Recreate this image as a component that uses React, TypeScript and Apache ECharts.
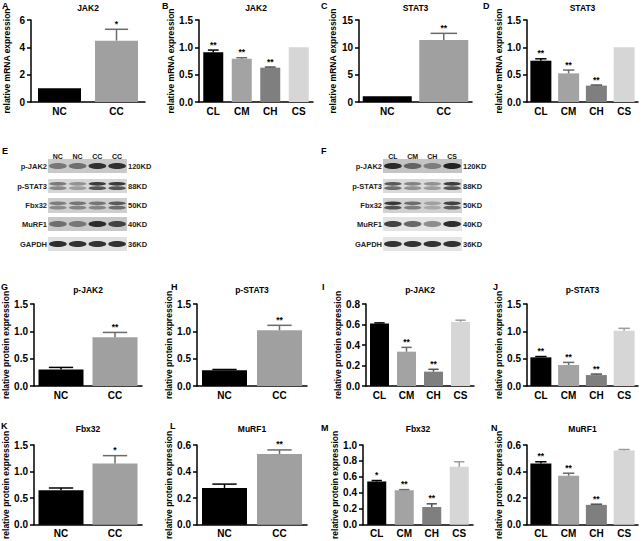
import React, { useEffect, useRef } from 'react';
import * as echarts from 'echarts';

const FONT = "'Liberation Sans', Arial, sans-serif";

// ---------- categories & colours ----------
const twoGroups = ['NC', 'CC'];
const fourGroups = ['CL', 'CM', 'CH', 'CS'];
const twoColors = ['#000000', '#a0a0a0'];
const twoErrColors = ['#000000', '#6b6b6b'];
const fourColors = ['#000000', '#a3a3a3', '#7f7f7f', '#d6d6d6'];
const fourErrColors = ['#000000', '#6b6b6b', '#4f4f4f', '#9c9c9c'];

// ---------- data ----------
// A  JAK2 mRNA (NC / CC)
const jak2MrnaNcCc = [1.0, 4.49];
const jak2MrnaNcCcErr = [0, 0.83];
const jak2MrnaNcCcSig = ['', '*'];
// B  JAK2 mRNA (groups)
const jak2MrnaGroups = [0.91, 0.79, 0.628, 1.0];
const jak2MrnaGroupsErr = [0.04, 0.02, 0.012, 0];
const jak2MrnaGroupsSig = ['**', '**', '**', ''];
// C  STAT3 mRNA (NC / CC)
const stat3MrnaNcCc = [1.05, 11.34];
const stat3MrnaNcCcErr = [0, 1.22];
const stat3MrnaNcCcSig = ['', '**'];
// D  STAT3 mRNA (groups)
const stat3MrnaGroups = [0.756, 0.524, 0.3, 1.0];
const stat3MrnaGroupsErr = [0.034, 0.06, 0.01, 0];
const stat3MrnaGroupsSig = ['**', '**', '**', ''];
// G  p-JAK2 protein (NC / CC)
const pJak2NcCc = [0.3, 0.89];
const pJak2NcCcErr = [0.04, 0.09];
const pJak2NcCcSig = ['', '**'];
// H  p-STAT3 protein (NC / CC)
const pStat3NcCc = [0.29, 1.02];
const pStat3NcCcErr = [0.012, 0.09];
const pStat3NcCcSig = ['', '**'];
// I  p-JAK2 protein (groups)
const pJak2Groups = [0.61, 0.335, 0.14, 0.625];
const pJak2GroupsErr = [0.006, 0.042, 0.023, 0.017];
const pJak2GroupsSig = ['', '**', '**', ''];
// J  p-STAT3 protein (groups)
const pStat3Groups = [0.524, 0.384, 0.2, 1.01];
const pStat3GroupsErr = [0.015, 0.048, 0.018, 0.045];
const pStat3GroupsSig = ['**', '**', '**', ''];
// K  Fbx32 protein (NC / CC)
const fbx32NcCc = [0.65, 1.154];
const fbx32NcCcErr = [0.042, 0.146];
const fbx32NcCcSig = ['', '*'];
// L  MuRF1 protein (NC / CC)
const murf1NcCc = [0.277, 0.532];
const murf1NcCcErr = [0.029, 0.031];
const murf1NcCcSig = ['', '**'];
// M  Fbx32 protein (groups)
const fbx32Groups = [0.543, 0.433, 0.223, 0.729];
const fbx32GroupsErr = [0.012, 0.008, 0.04, 0.061];
const fbx32GroupsSig = ['*', '**', '**', ''];
// N  MuRF1 protein (groups)
const murf1Groups = [0.461, 0.369, 0.15, 0.559];
const murf1GroupsErr = [0.013, 0.019, 0.005, 0.007];
const murf1GroupsSig = ['**', '**', '**', ''];

// western blot band intensities (0..1), lanes left to right
const blotProteins = ['p-JAK2', 'p-STAT3', 'Fbx32', 'MuRF1', 'GAPDH'];
const blotSizes = ['120KD', '88KD', '50KD', '40KD', '36KD'];
const blotELanes = ['NC', 'NC', 'CC', 'CC'];
const blotEIntensity = [
  [0.45, 0.5, 0.85, 0.85],
  [0.55, 0.4, 0.92, 0.92],
  [0.5, 0.55, 0.55, 0.72],
  [0.5, 0.45, 0.88, 0.75],
  [0.88, 0.86, 0.86, 0.86],
];
const blotFLanes = ['CL', 'CM', 'CH', 'CS'];
const blotFIntensity = [
  [0.88, 0.55, 0.4, 0.92],
  [0.75, 0.5, 0.42, 0.92],
  [0.92, 0.6, 0.3, 0.88],
  [0.78, 0.6, 0.42, 0.88],
  [0.86, 0.86, 0.86, 0.86],
];

const mrnaName = 'relative mRNA expression';
const protName = 'relative protein expression';

// ---------- layout ----------
const panels = [
  { letter: 'A', title: 'JAK2', cats: twoGroups, values: jak2MrnaNcCc, errs: jak2MrnaNcCcErr, sigs: jak2MrnaNcCcSig, colors: twoColors, errColors: twoErrColors, max: 6, interval: 2, dec: 0, name: mrnaName, grid: { left: 31, top: 20, width: 114, height: 82 }, bw: 43, gap: 20, lx: 2, ly: 1, ty: 8 },
  { letter: 'B', title: 'JAK2', cats: fourGroups, values: jak2MrnaGroups, errs: jak2MrnaGroupsErr, sigs: jak2MrnaGroupsSig, colors: fourColors, errColors: fourErrColors, max: 1.5, interval: 0.5, dec: 1, name: mrnaName, grid: { left: 199, top: 20, width: 114, height: 82 }, bw: 20, gap: 18, lx: 162, ly: 1, ty: 8 },
  { letter: 'C', title: 'STAT3', cats: twoGroups, values: stat3MrnaNcCc, errs: stat3MrnaNcCcErr, sigs: stat3MrnaNcCcSig, colors: twoColors, errColors: twoErrColors, max: 15, interval: 5, dec: 0, name: mrnaName, grid: { left: 359, top: 20, width: 113, height: 82 }, bw: 49, gap: 18, lx: 321, ly: 1, ty: 8 },
  { letter: 'D', title: 'STAT3', cats: fourGroups, values: stat3MrnaGroups, errs: stat3MrnaGroupsErr, sigs: stat3MrnaGroupsSig, colors: fourColors, errColors: fourErrColors, max: 1.5, interval: 0.5, dec: 1, name: mrnaName, grid: { left: 527, top: 20, width: 111, height: 82 }, bw: 21, gap: 16, lx: 483, ly: 1, ty: 8 },
  { letter: 'G', title: 'p-JAK2', cats: twoGroups, values: pJak2NcCc, errs: pJak2NcCcErr, sigs: pJak2NcCcSig, colors: twoColors, errColors: twoErrColors, max: 1.5, interval: 0.5, dec: 1, name: protName, grid: { left: 34, top: 304, width: 108, height: 82 }, bw: 45, gap: 20, lx: 1, ly: 282, ty: 290 },
  { letter: 'H', title: 'p-STAT3', cats: twoGroups, values: pStat3NcCc, errs: pStat3NcCcErr, sigs: pStat3NcCcSig, colors: twoColors, errColors: twoErrColors, max: 1.5, interval: 0.5, dec: 1, name: protName, grid: { left: 197, top: 304, width: 110, height: 82 }, bw: 45, gap: 16, lx: 171, ly: 282, ty: 290 },
  { letter: 'I', title: 'p-JAK2', cats: fourGroups, values: pJak2Groups, errs: pJak2GroupsErr, sigs: pJak2GroupsSig, colors: fourColors, errColors: fourErrColors, max: 0.8, interval: 0.2, dec: 1, name: protName, grid: { left: 366, top: 304, width: 108, height: 82 }, bw: 19, gap: 20, lx: 322, ly: 282, ty: 290 },
  { letter: 'J', title: 'p-STAT3', cats: fourGroups, values: pStat3Groups, errs: pStat3GroupsErr, sigs: pStat3GroupsSig, colors: fourColors, errColors: fourErrColors, max: 1.5, interval: 0.5, dec: 1, name: protName, grid: { left: 527, top: 304, width: 111, height: 82 }, bw: 21, gap: 19, lx: 493, ly: 282, ty: 290 },
  { letter: 'K', title: 'Fbx32', cats: twoGroups, values: fbx32NcCc, errs: fbx32NcCcErr, sigs: fbx32NcCcSig, colors: twoColors, errColors: twoErrColors, max: 1.5, interval: 0.5, dec: 1, name: protName, grid: { left: 34, top: 445, width: 108, height: 82 }, bw: 45, gap: 20, lx: 1, ly: 421, ty: 429 },
  { letter: 'L', title: 'MuRF1', cats: twoGroups, values: murf1NcCc, errs: murf1NcCcErr, sigs: murf1NcCcSig, colors: twoColors, errColors: twoErrColors, max: 0.6, interval: 0.2, dec: 1, name: protName, grid: { left: 197, top: 445, width: 110, height: 82 }, bw: 45, gap: 17, lx: 170, ly: 421, ty: 429 },
  { letter: 'M', title: 'Fbx32', cats: fourGroups, values: fbx32Groups, errs: fbx32GroupsErr, sigs: fbx32GroupsSig, colors: fourColors, errColors: fourErrColors, max: 1.0, interval: 0.2, dec: 1, name: protName, grid: { left: 363, top: 445, width: 110, height: 82 }, bw: 19, gap: 18, lx: 321, ly: 423, ty: 429 },
  { letter: 'N', title: 'MuRF1', cats: fourGroups, values: murf1Groups, errs: murf1GroupsErr, sigs: murf1GroupsSig, colors: fourColors, errColors: fourErrColors, max: 0.6, interval: 0.2, dec: 1, name: protName, grid: { left: 527, top: 445, width: 111, height: 82 }, bw: 21, gap: 20, lx: 491, ly: 423, ty: 429 },
];

const blotRows = [
  { top: 159, h: 14, double: false },
  { top: 179, h: 14, double: true },
  { top: 198, h: 15, double: true },
  { top: 217, h: 14, double: false },
  { top: 237, h: 14, double: false },
];
const blots = [
  { letter: 'E', lx: 2, x0: 48, x1: 127, lanes: blotELanes, intensity: blotEIntensity, bg: ['#c9c9c9', '#d7d7d7', '#cfcfcf', '#c8c8c8', '#e0e0e0'] },
  { letter: 'F', lx: 321, x0: 383, x1: 462, lanes: blotFLanes, intensity: blotFIntensity, bg: ['#c4c4c4', '#dadada', '#d2d2d2', '#e4e4e4', '#e4e4e4'] },
];

function txt(x: number, y: number, text: string, font: string, align: string, valign: string, fill = '#000') {
  return {
    type: 'text',
    x,
    y,
    silent: true,
    style: { text, font, fill, textAlign: align, textVerticalAlign: valign, align, verticalAlign: valign },
  };
}

function buildOption() {
  const grid: any[] = [];
  const xAxis: any[] = [];
  const yAxis: any[] = [];
  const series: any[] = [];
  const graphic: any[] = [];

  panels.forEach((p, i) => {
    grid.push({ ...p.grid, containLabel: false });
    xAxis.push({
      gridIndex: i,
      type: 'category',
      data: p.cats,
      axisLine: { show: true, lineStyle: { color: '#000', width: 1.5 } },
      axisTick: { show: false },
      axisLabel: { fontFamily: FONT, fontWeight: 'bold', fontSize: 10, color: '#000', margin: 4 },
      splitLine: { show: false },
    });
    yAxis.push({
      gridIndex: i,
      type: 'value',
      min: 0,
      max: p.max,
      interval: p.interval,
      axisLine: { show: true, lineStyle: { color: '#000', width: 1.5 } },
      axisTick: { show: true, length: 4, lineStyle: { color: '#000', width: 1.5 } },
      axisLabel: {
        fontFamily: FONT, fontWeight: 'bold', fontSize: 10, color: '#000', margin: 6,
        formatter: (v: number) => v.toFixed(p.dec),
      },
      splitLine: { show: false },
      name: p.name,
      nameLocation: 'middle',
      nameGap: p.gap,
      nameTextStyle: { fontFamily: FONT, fontWeight: 'bold', fontSize: 8.5, color: '#000' },
    });
    series.push({
      type: 'bar',
      xAxisIndex: i,
      yAxisIndex: i,
      barWidth: p.bw,
      silent: true,
      data: p.values.map((v, k) => ({ value: v, itemStyle: { color: p.colors[k] } })),
    });
    const cap = p.bw * 0.27;
    series.push({
      type: 'custom',
      xAxisIndex: i,
      yAxisIndex: i,
      clip: false,
      silent: true,
      z: 5,
      encode: { x: 0, y: 1 },
      data: p.values.map((v, k) => [k, v, p.errs[k]]),
      renderItem: (params: any, api: any) => {
        const k = params.dataIndex;
        const x = api.value(0);
        const v = api.value(1);
        const e = api.value(2);
        const p0 = api.coord([x, v]);
        const p1 = api.coord([x, v + e]);
        const col = p.errColors[k];
        const children: any[] = [];
        if (e > 0) {
          children.push({ type: 'line', shape: { x1: p0[0], y1: p0[1], x2: p1[0], y2: p1[1] }, style: { stroke: col, lineWidth: 1.5 } });
          children.push({ type: 'line', shape: { x1: p1[0] - cap, y1: p1[1], x2: p1[0] + cap, y2: p1[1] }, style: { stroke: col, lineWidth: 1.5 } });
        }
        const s = p.sigs[k];
        if (s) {
          children.push({
            type: 'text',
            x: p1[0],
            y: p1[1] - 1,
            style: { text: s, font: `bold 8.5px ${FONT}`, fill: '#000', textAlign: 'center', textVerticalAlign: 'bottom', align: 'center', verticalAlign: 'bottom' },
          });
        }
        return { type: 'group', children };
      },
    });
    graphic.push(txt(p.lx, p.ly, p.letter, `bold 9px ${FONT}`, 'left', 'top'));
    graphic.push(txt(p.grid.left + p.grid.width / 2, p.ty, p.title, `bold 8.5px ${FONT}`, 'center', 'middle'));
  });

  // western blots
  blots.forEach((b) => {
    graphic.push(txt(b.lx, 146, b.letter, `bold 9px ${FONT}`, 'left', 'top'));
    const laneW = (b.x1 - b.x0) / b.lanes.length;
    b.lanes.forEach((lab, j) => {
      graphic.push(txt(b.x0 + laneW * (j + 0.5), 156, lab, `bold 7px ${FONT}`, 'center', 'middle', '#111'));
    });
    blotRows.forEach((r, ri) => {
      graphic.push({
        type: 'rect',
        silent: true,
        x: b.x0,
        y: r.top,
        shape: { x: 0, y: 0, width: b.x1 - b.x0, height: r.h },
        style: { fill: b.bg[ri] },
      });
      b.intensity[ri].forEach((it, j) => {
        const cx = b.x0 + laneW * (j + 0.5);
        const cy = r.top + r.h / 2;
        if (r.double) {
          graphic.push({
            type: 'ellipse', silent: true, x: cx, y: cy - 2.2,
            shape: { cx: 0, cy: 0, rx: laneW * 0.44, ry: 1.9 },
            style: { fill: '#1a1a1a', opacity: it * 0.9 },
          });
          graphic.push({
            type: 'ellipse', silent: true, x: cx, y: cy + 2.2,
            shape: { cx: 0, cy: 0, rx: laneW * 0.44, ry: 1.9 },
            style: { fill: '#1a1a1a', opacity: it * 0.75 },
          });
        } else {
          graphic.push({
            type: 'ellipse', silent: true, x: cx, y: cy,
            shape: { cx: 0, cy: 0, rx: laneW * 0.45, ry: 3 },
            style: { fill: '#151515', opacity: it },
          });
        }
      });
      graphic.push(txt(b.x0 - 1, r.top + r.h / 2, blotProteins[ri], `bold 7.5px ${FONT}`, 'right', 'middle', '#222'));
      graphic.push(txt(b.x1 + 1, r.top + r.h / 2, blotSizes[ri], `bold 7.5px ${FONT}`, 'left', 'middle', '#222'));
    });
  });

  return {
    animation: false,
    backgroundColor: '#ffffff',
    grid,
    xAxis,
    yAxis,
    series,
    graphic,
  };
}

export default function App() {
  const ref = useRef<HTMLDivElement>(null);
  useEffect(() => {
    if (!ref.current) return;
    const chart = echarts.init(ref.current, undefined, { renderer: 'svg' });
    chart.setOption(buildOption() as any);
    return () => chart.dispose();
  }, []);
  return (
    <div
      ref={ref}
      style={{ position: 'fixed', left: 0, top: 0, width: 643, height: 541, background: '#fff' }}
    />
  );
}
